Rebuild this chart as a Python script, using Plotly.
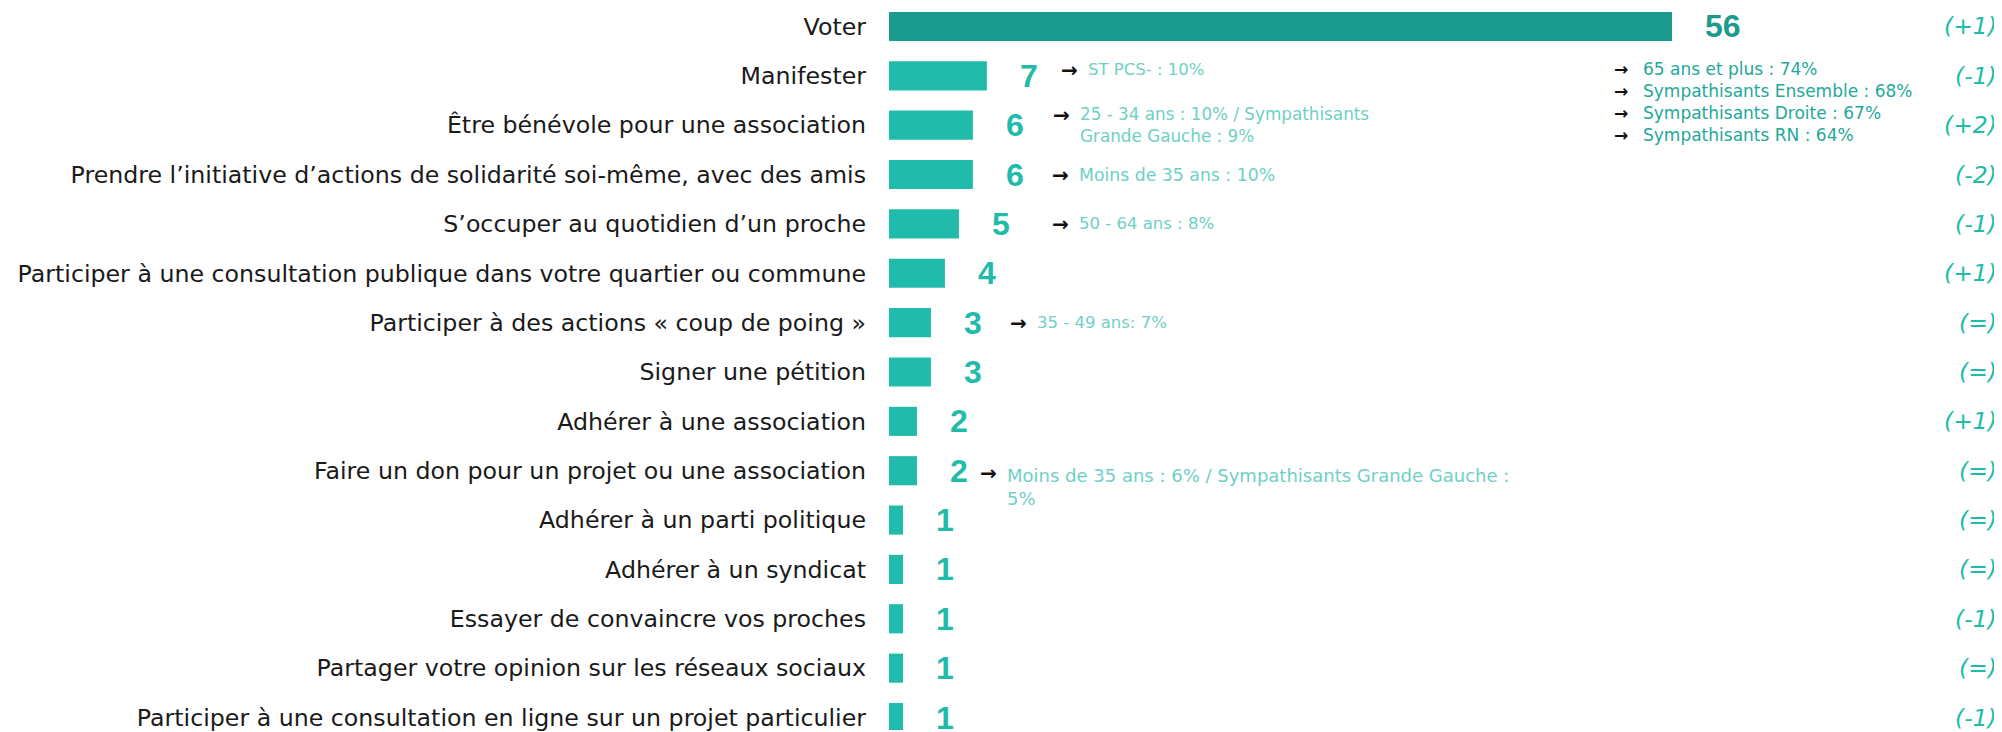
import plotly.graph_objects as go

# data
actions = [
    "Voter",
    "Manifester",
    "Être bénévole pour une association",
    "Prendre l’initiative d’actions de solidarité soi-même, avec des amis",
    "S’occuper au quotidien d’un proche",
    "Participer à une consultation publique dans votre quartier ou commune",
    "Participer à des actions « coup de poing »",
    "Signer une pétition",
    "Adhérer à une association",
    "Faire un don pour un projet ou une association",
    "Adhérer à un parti politique",
    "Adhérer à un syndicat",
    "Essayer de convaincre vos proches",
    "Partager votre opinion sur les réseaux sociaux",
    "Participer à une consultation en ligne sur un projet particulier",
]
scores = [56, 7, 6, 6, 5, 4, 3, 3, 2, 2, 1, 1, 1, 1, 1]
evolution = ["(+1)", "(-1)", "(+2)", "(-2)", "(-1)", "(+1)", "(=)", "(=)",
             "(+1)", "(=)", "(=)", "(=)", "(-1)", "(=)", "(-1)"]

voter_notes = ["65 ans et plus : 74%", "Sympathisants Ensemble : 68%",
               "Sympathisants Droite : 67%", "Sympathisants RN : 64%"]

note_rows = [1, 2, 3, 4, 6, 9]
note_texts = [
    "ST PCS- : 10%",
    "25 - 34 ans : 10% / Sympathisants<br>Grande Gauche : 9%",
    "Moins de 35 ans : 10%",
    "50 - 64 ans : 8%",
    "35 - 49 ans: 7%",
    "Moins de 35 ans : 6% / Sympathisants Grande Gauche :<br>5%",
]

# styling / placement (pixels)
note_xshift = [73, 79, 78, 92, 78, 62]
note_text_yshift = [6, 0, 0, 0, 0, -16]
note_arrow_yshift = [6, 10, 0, 0, 0, -2]
note_size = [16.5, 16.8, 17.3, 16.5, 16.5, 18]

DARK = "#1b9a8f"
TEAL = "#21bbab"
LIGHT = "#6fd0c5"
SANS = "DejaVu Sans"
ARIAL = "Liberation Sans"

rows = list(range(len(actions)))
bar_colors = [DARK if i == 0 else TEAL for i in rows]

fig = go.Figure()
fig.add_trace(go.Bar(
    x=scores, y=rows, orientation="h",
    marker=dict(color=bar_colors, line=dict(width=0)),
    width=0.59, hoverinfo="skip",
))

annotations = []
# value labels
for i, v in enumerate(scores):
    annotations.append(dict(
        x=v, y=i, xref="x", yref="y", text=str(v), showarrow=False,
        xanchor="left", yanchor="middle", xshift=31,
        font=dict(family=ARIAL, size=32, color=DARK if i == 0 else TEAL, weight="bold"),
    ))
# evolution column
for i, t in enumerate(evolution):
    annotations.append(dict(
        x=1, y=i, xref="paper", yref="y", text=t, showarrow=False,
        xanchor="right", yanchor="middle", xshift=-3,
        font=dict(family=SANS, size=23.5, color=TEAL, style="italic"),
    ))
# notes
for k, r in enumerate(note_rows):
    annotations.append(dict(
        x=scores[r], y=r, xref="x", yref="y", text="→", showarrow=False,
        xanchor="left", yanchor="middle", xshift=note_xshift[k] - 1, yshift=note_arrow_yshift[k],
        font=dict(family="DejaVu Sans", size=20, color="#111111", weight="bold"),
    ))
    annotations.append(dict(
        x=scores[r], y=r, xref="x", yref="y", text=note_texts[k], showarrow=False,
        xanchor="left", yanchor="middle", align="left",
        xshift=note_xshift[k] + 26, yshift=note_text_yshift[k],
        font=dict(family=SANS, size=note_size[k], color=LIGHT),
    ))
# notes under Voter
annotations.append(dict(
    x=0, y=1.5, xref="x", yref="y", text="<br>".join(["→"] * len(voter_notes)),
    showarrow=False, xanchor="left", yanchor="middle", xshift=723, yshift=-1,
    font=dict(family="DejaVu Sans", size=17, color="#111111", weight="bold"),
))
annotations.append(dict(
    x=0, y=1.5, xref="x", yref="y", text="<br>".join(voter_notes),
    showarrow=False, xanchor="left", yanchor="middle", align="left", xshift=752, yshift=-1,
    font=dict(family=SANS, size=17, color="#1fa89a"),
))

# the page adds an 8px body margin, so the figure is sized and offset for it
fig.update_layout(
    width=1994, height=724,
    margin=dict(l=881, r=0, t=0, b=0),
    paper_bgcolor="white", plot_bgcolor="white",
    showlegend=False,
    annotations=annotations,
    xaxis=dict(range=[0, 79.6], visible=False, fixedrange=True),
    yaxis=dict(
        range=[14.253, -0.374], tickvals=rows, ticktext=actions,
        showgrid=False, zeroline=False, showline=False, ticks="",
        ticklabelstandoff=22, ticklabeloverflow="allow",
        tickfont=dict(family=SANS, size=23.7, color="#1a1a1a"),
    ),
)

fig.write_html("out.html")
